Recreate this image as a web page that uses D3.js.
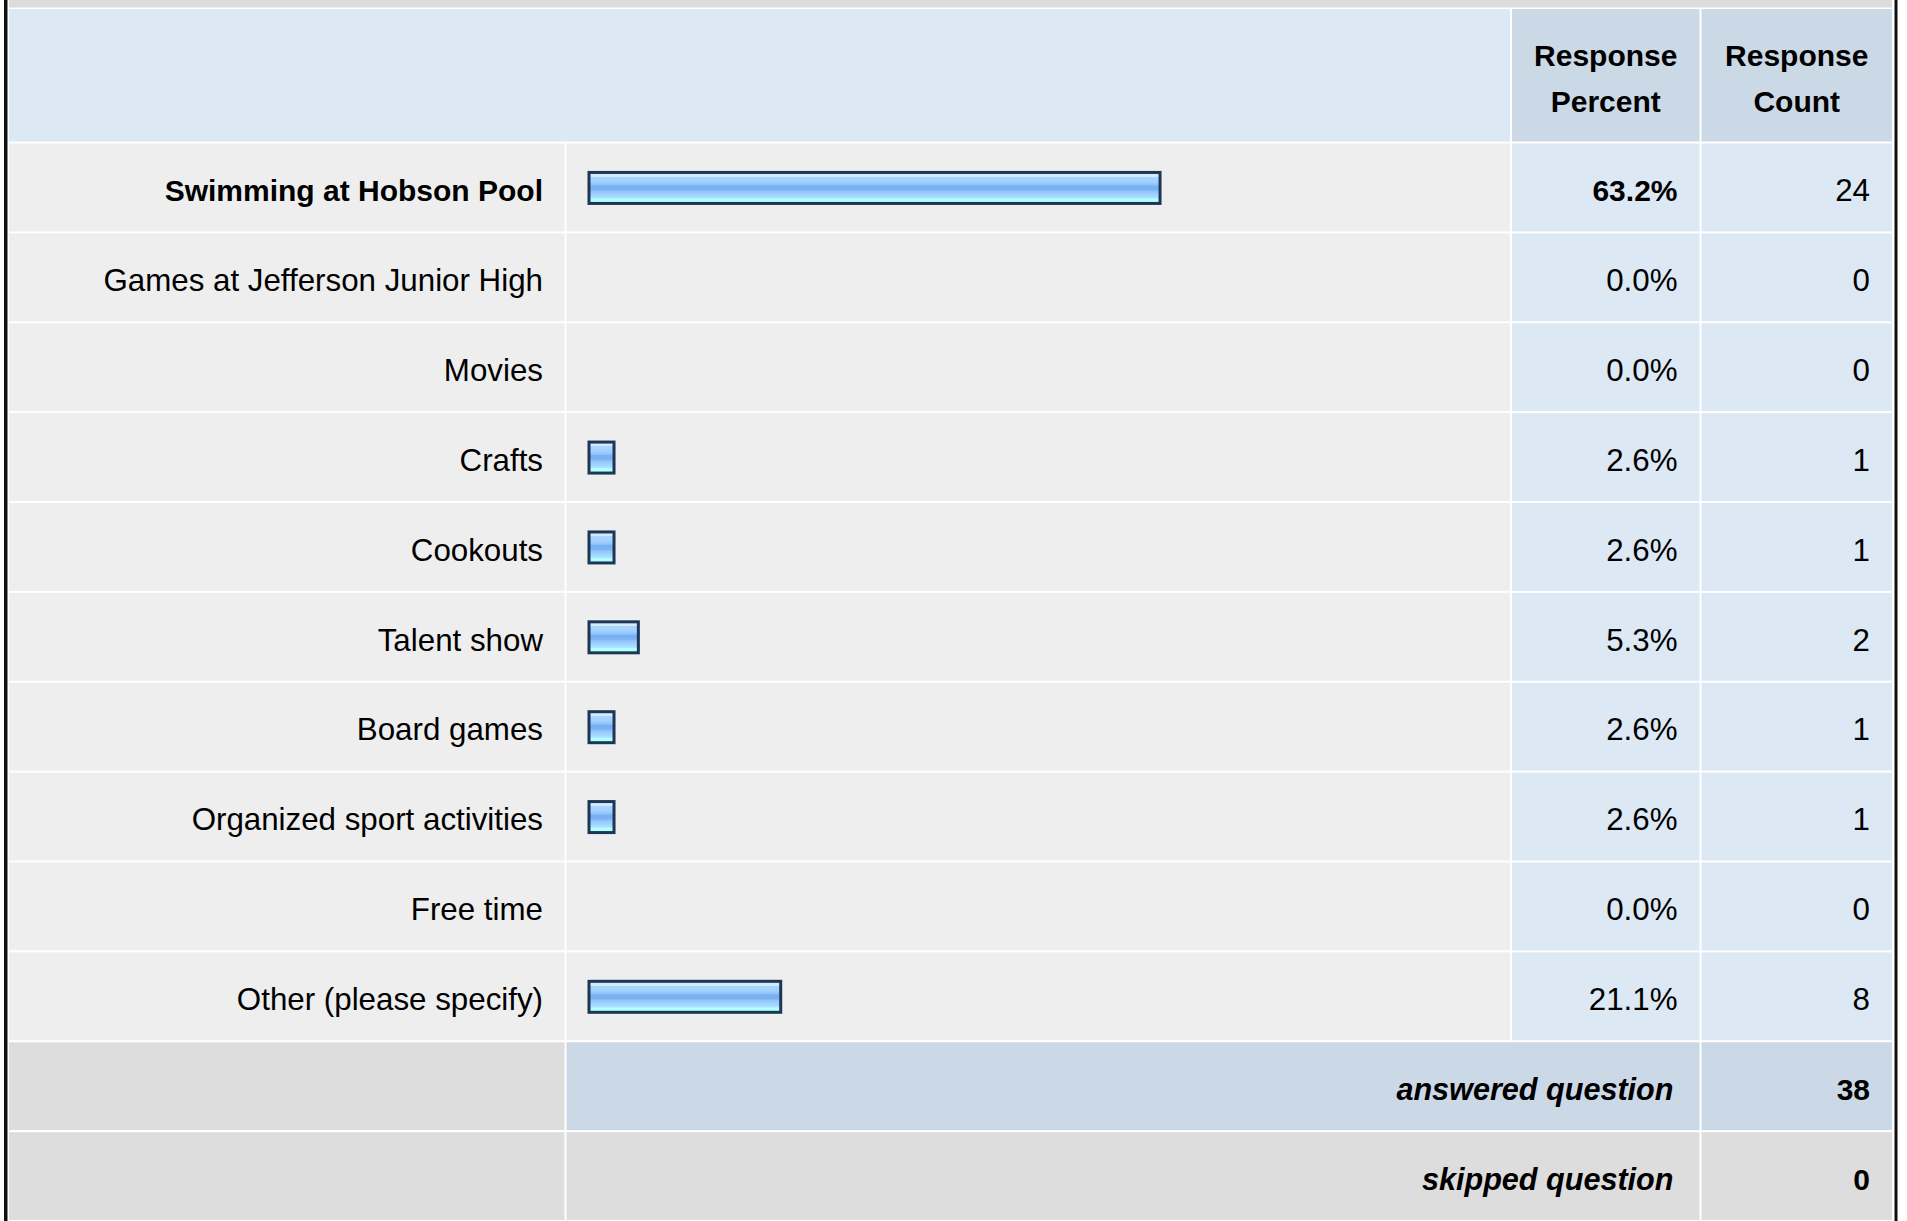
<!DOCTYPE html>
<html>
<head>
<meta charset="utf-8">
<script src="https://cdn.jsdelivr.net/npm/d3@7"></script>
<style>
  html, body { margin: 0; padding: 0; background: #ffffff; }
  svg { display: block; font-family: "Liberation Sans", Arial, Helvetica, sans-serif; }
</style>
</head>
<body>
<svg id="chart" width="1907" height="1221"></svg>
<script>
// ---- data ----
const categories = [
  "Swimming at Hobson Pool",
  "Games at Jefferson Junior High",
  "Movies",
  "Crafts",
  "Cookouts",
  "Talent show",
  "Board games",
  "Organized sport activities",
  "Free time",
  "Other (please specify)"
];
const percents = [63.2, 0.0, 0.0, 2.6, 2.6, 5.3, 2.6, 2.6, 0.0, 21.1];
const counts = [24, 0, 0, 1, 1, 2, 1, 1, 0, 8];
const headerPercent = ["Response", "Percent"];
const headerCount = ["Response", "Count"];
const summaryLabels = ["answered question", "skipped question"];
const summaryValues = [38, 0];

// ---- layout ----
const W = 1907, H = 1221;
const svg = d3.select("#chart");
const colB = [9, 565.5, 1511, 1700.5, 1893]; // column boundaries
const gap = 1;
const headerTop = 9, rowTop = 142.5, rowH = 89.875;

const rowKeys = categories.concat(summaryLabels);
const y = d3.scaleBand().domain(rowKeys).range([rowTop, rowTop + rowH * rowKeys.length]).padding(0);
const x = d3.scaleLinear().domain([0, 100]).range([0, 901]);

const boldSize = 30, regSize = 31.3, italSize = 30.6, baseOff = 13.8;
const maxPct = d3.max(percents);

// gradient for bars
const defs = svg.append("defs");
const grad = defs.append("linearGradient").attr("id", "barGrad")
  .attr("x1", 0).attr("y1", 0).attr("x2", 0).attr("y2", 1);
[
  [0.00, "#d2ebff"], [0.14, "#d2ebff"], [0.14, "#a9d5ff"], [0.30, "#a3d1ff"],
  [0.40, "#8ec2fb"], [0.44, "#78aff0"], [0.56, "#7ab2f2"], [0.62, "#92c6fd"],
  [0.75, "#a4d6ff"], [0.82, "#a9e2ff"], [0.86, "#b2ffff"], [1.00, "#b2ffff"]
].forEach(([o, c]) => grad.append("stop").attr("offset", o).attr("stop-color", c));

svg.append("rect").attr("x", 0).attr("y", 0).attr("width", W).attr("height", H).attr("fill", "#ffffff");

// top gray band
svg.append("rect").attr("x", colB[0]).attr("y", 0).attr("width", colB[4] - colB[0] - 1).attr("height", 7.5).attr("fill", "#dcdcdc");

// borders
svg.append("rect").attr("x", 4).attr("y", 0).attr("width", 3.5).attr("height", H).attr("fill", "#111111");
svg.append("rect").attr("x", 1894.5).attr("y", 0).attr("width", 3).attr("height", H).attr("fill", "#111111");

function cell(x0, x1, y0, y1, fill) {
  svg.append("rect")
    .attr("x", x0 + gap).attr("y", y0 + gap)
    .attr("width", x1 - x0 - 2 * gap).attr("height", y1 - y0 - 2 * gap)
    .attr("fill", fill);
}

// header
cell(colB[0] - 1, colB[2], headerTop - 1, rowTop, "#dde8f5");
cell(colB[2], colB[3], headerTop - 1, rowTop, "#cbd8e6");
cell(colB[3], colB[4], headerTop - 1, rowTop, "#cbd8e6");

function headerText(lines, cx) {
  const t = svg.append("text").attr("text-anchor", "middle")
    .attr("font-size", boldSize).attr("font-weight", "bold").attr("fill", "#000");
  lines.forEach((l, i) => t.append("tspan").attr("x", cx).attr("y", 66 + i * 46).text(l));
}
headerText(headerPercent, (colB[2] + colB[3]) / 2);
headerText(headerCount, (colB[3] + colB[4]) / 2);

// data rows
categories.forEach((c, i) => {
  const y0 = y(c), y1 = y0 + y.bandwidth();
  const cy = y0 + y.bandwidth() / 2;
  const bold = percents[i] === maxPct;
  cell(colB[0] - 1, colB[1], y0, y1, "#eeeeee");
  cell(colB[1], colB[2], y0, y1, "#eeeeee");
  cell(colB[2], colB[3], y0, y1, "#dde8f5");
  cell(colB[3], colB[4], y0, y1, "#dde8f5");

  svg.append("text").attr("x", colB[1] - 22.5).attr("y", cy + baseOff)
    .attr("text-anchor", "end").attr("font-size", bold ? boldSize : regSize)
    .attr("font-weight", bold ? "bold" : "normal").attr("fill", "#000").text(c);

  if (percents[i] > 0) {
    svg.append("rect")
      .attr("x", 589).attr("y", cy - 15)
      .attr("width", x(percents[i]) + 1.6).attr("height", 31)
      .attr("fill", "url(#barGrad)")
      .attr("stroke", "#1d3656").attr("stroke-width", 3);
  }

  svg.append("text").attr("x", colB[3] - 23).attr("y", cy + baseOff)
    .attr("text-anchor", "end").attr("font-size", bold ? boldSize : regSize)
    .attr("font-weight", bold ? "bold" : "normal").attr("fill", "#000")
    .text(d3.format(".1f")(percents[i]) + "%");

  svg.append("text").attr("x", colB[4] - 23).attr("y", cy + baseOff)
    .attr("text-anchor", "end").attr("font-size", regSize)
    .attr("fill", "#000").text(counts[i]);
});

// summary rows
summaryLabels.forEach((s, i) => {
  const y0 = y(s), y1 = y0 + y.bandwidth();
  const cy = y0 + y.bandwidth() / 2;
  const fill = i === 0 ? "#cbd8e6" : "#dddddd";
  cell(colB[0] - 1, colB[1], y0, y1, "#dddddd");
  cell(colB[1], colB[3], y0, y1, fill);
  cell(colB[3], colB[4], y0, y1, fill);
  svg.append("text").attr("x", colB[3] - 27).attr("y", cy + baseOff)
    .attr("text-anchor", "end").attr("font-size", italSize)
    .attr("font-weight", "bold").attr("font-style", "italic").attr("fill", "#000").text(s);
  svg.append("text").attr("x", colB[4] - 23).attr("y", cy + baseOff)
    .attr("text-anchor", "end").attr("font-size", boldSize)
    .attr("font-weight", "bold").attr("fill", "#000").text(summaryValues[i]);
});
</script>
</body>
</html>
